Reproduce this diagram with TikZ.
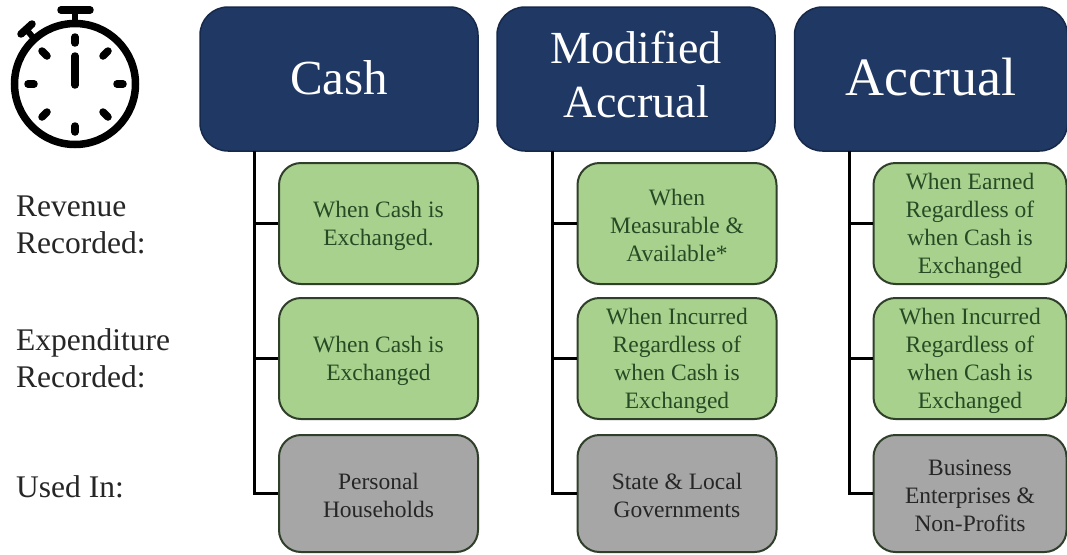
\documentclass[tikz,border=0pt]{standalone}
\usepackage{fontspec}
\setmainfont{Liberation Serif}
\newcommand{\lowertext}{\rule{0pt}{21pt}}
\definecolor{navy}{HTML}{1F3864}
\definecolor{navyline}{HTML}{17294A}
\definecolor{leaf}{HTML}{A9D18E}
\definecolor{leafline}{HTML}{2F3F2A}
\definecolor{leaftext}{HTML}{274A25}
\definecolor{stone}{HTML}{A6A6A6}
\definecolor{stonetext}{HTML}{262626}
\tikzset{
  head/.style={draw=navyline,line width=1.5pt,fill=navy,rounded corners=28pt,minimum width=278pt,minimum height=144pt,text=white,align=center,font=\fontsize{49}{55}\selectfont,inner sep=0pt},
  box/.style={line width=2pt,rounded corners=22pt,minimum width=199pt,align=center,font=\fontsize{23.5}{28}\selectfont,inner sep=0pt},
  greenbox/.style={box,draw=leafline,fill=leaf,text=leaftext,minimum height=121pt},
  greybox/.style={box,draw=leafline,fill=stone,text=stonetext,minimum height=117pt},
  rowlabel/.style={anchor=base west,align=left,font=\fontsize{31.5}{37}\selectfont,text=black!85,inner sep=0pt},
  link/.style={line width=3pt,draw=black},
  clockline/.style={line width=7.5pt,line cap=round,draw=black}
}
\begin{document}
\begin{tikzpicture}[x=1pt,y=-1pt]
\useasboundingbox (0,0) rectangle (1067,554);
\clip (0,0) rectangle (1067,554);
\fill[white] (0,0) rectangle (1067,554);
% stopwatch
\draw[black,line width=7.5pt] (75,84) circle (60.5);
\draw[clockline] (61,10) -- (90,10);
\draw[black,line width=6pt] (75,10) -- (75,24);
\draw[clockline] (21,34) -- (32,24);
\draw[black,line width=6pt] (26,29) -- (36,41);
\draw[clockline] (75,37) -- (75,43);
\draw[clockline] (75,56) -- (75,85);
\draw[clockline] (75,126) -- (75,132);
\draw[clockline] (28,84) -- (34,84);
\draw[clockline] (117,84) -- (123,84);
\draw[clockline] (42,51) -- (47,56);
\draw[clockline] (108,51) -- (103,56);
\draw[clockline] (42,117) -- (47,112);
\draw[clockline] (108,117) -- (103,112);
% row labels
\node[rowlabel] (lrev) at (16,253) {Revenue\\Recorded:};
\node[rowlabel] (lexp) at (16,387) {Expenditure\\Recorded:};
\node[rowlabel] (luse) at (16,497) {Used In:};
% connector origins
\coordinate (t1) at (254,151);
\coordinate (t2) at (552,151);
\coordinate (t3) at (849,151);
% boxes
\node[head] (h1) at (339,79) {Cash\rule[-4pt]{0pt}{4pt}};
\node[head,font=\fontsize{46}{54}\selectfont] (h2) at (636,79) {Modified\\Accrual\rule[-10pt]{0pt}{10pt}};
\node[head,minimum width=273pt,font=\fontsize{54}{58}\selectfont] (h3) at (931,79) {Accrual\rule[-4pt]{0pt}{4pt}};
\node[greenbox] (a1) at (378.5,223.5) {\lowertext When Cash is\\Exchanged.};
\node[greenbox] (a2) at (378.5,358.5) {\lowertext When Cash is\\Exchanged};
\node[greybox]  (a3) at (378.5,493.5) {\lowertext Personal\\Households};
\node[greenbox] (b1) at (677,223.5) {\lowertext When\\Measurable \&\\Available*};
\node[greenbox] (b2) at (677,358.5) {\lowertext When Incurred\\Regardless of\\when Cash is\\Exchanged};
\node[greybox]  (b3) at (677,493.5) {\lowertext State \& Local\\Governments};
\node[greenbox,minimum width=193pt] (c1) at (970,223.5) {\lowertext When Earned\\Regardless of\\when Cash is\\Exchanged};
\node[greenbox,minimum width=193pt] (c2) at (970,358.5) {\lowertext When Incurred\\Regardless of\\when Cash is\\Exchanged};
\node[greybox,minimum width=193pt]  (c3) at (970,493.5) {\lowertext Business\\Enterprises \&\\Non-Profits};
% connectors
\draw[link] (t1) |- (a3.west);
\draw[link] (t1 |- a1.west) -- (a1.west);
\draw[link] (t1 |- a2.west) -- (a2.west);
\draw[link] (t2) |- (b3.west);
\draw[link] (t2 |- b1.west) -- (b1.west);
\draw[link] (t2 |- b2.west) -- (b2.west);
\draw[link] (t3) |- (c3.west);
\draw[link] (t3 |- c1.west) -- (c1.west);
\draw[link] (t3 |- c2.west) -- (c2.west);
\end{tikzpicture}
\end{document}
